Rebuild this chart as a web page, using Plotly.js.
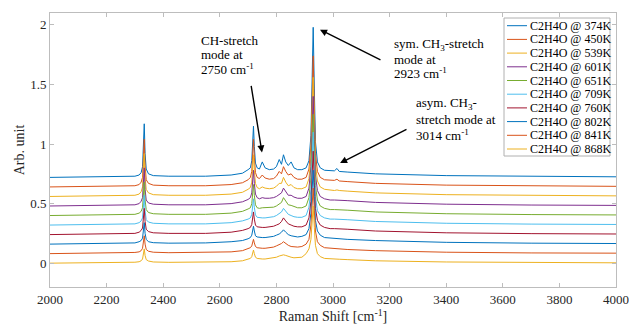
<!DOCTYPE html>
<html>
<head>
<meta charset="utf-8">
<script src="https://cdn.plot.ly/plotly-3.0.1.min.js"></script>
<style>html,body{margin:0;padding:0;background:#fff;}#chart{width:629px;height:327px;}</style>
</head>
<body>
<div id="chart"></div>
<script>
// Raman shift grid (cm^-1)
const wavenumber = [2000,2250,2300,2315,2322,2327,2330,2333,2336,2340,2348,2365,2420,2550,2640,2680,2700,2708,2713,2716,2719,2722,2726,2732,2740,2750,2760,2775,2790,2800,2810,2818,2825,2833,2842,2852,2862,2875,2890,2905,2915,2922,2926,2930,2934,2938,2945,2955,2970,2990,3005,3014,3022,3050,3150,3400,3700,4000];

const seriesNames = ["C2H4O @ 374K","C2H4O @ 450K","C2H4O @ 539K","C2H4O @ 601K","C2H4O @ 651K","C2H4O @ 709K","C2H4O @ 760K","C2H4O @ 802K","C2H4O @ 841K","C2H4O @ 868K"];
const offsets = [0.72,0.64,0.56,0.48,0.40,0.32,0.24,0.16,0.08,0.0];
const colors = ["#0072BD","#D95319","#EDB120","#7E2F8E","#77AC30","#4DBEEE","#A2142F","#0072BD","#D95319","#EDB120"];

const int374 = [0,0.005,0.01,0.02,0.04,0.09,0.22,0.45,0.2,0.07,0.03,0.015,0.01,0.01,0.02,0.035,0.065,0.08,0.14,0.25,0.43,0.26,0.12,0.08,0.07,0.13,0.08,0.065,0.07,0.09,0.15,0.11,0.19,0.13,0.10,0.13,0.08,0.065,0.065,0.08,0.14,0.35,0.8,1.26,0.75,0.3,0.13,0.08,0.06,0.055,0.055,0.075,0.05,0.045,0.03,0.015,0.008,0.005];
const int450 = [0,0.005,0.01,0.02,0.04,0.08,0.2,0.40,0.18,0.06,0.03,0.015,0.01,0.01,0.02,0.035,0.06,0.08,0.13,0.24,0.40,0.25,0.12,0.08,0.07,0.10,0.075,0.065,0.07,0.09,0.13,0.11,0.17,0.13,0.10,0.11,0.08,0.065,0.065,0.08,0.15,0.35,0.72,1.10,0.66,0.28,0.13,0.08,0.06,0.055,0.055,0.065,0.05,0.045,0.03,0.015,0.008,0.005];
const int539 = [0,0.005,0.01,0.02,0.04,0.08,0.18,0.36,0.16,0.06,0.03,0.015,0.01,0.01,0.02,0.035,0.06,0.075,0.12,0.21,0.35,0.22,0.11,0.075,0.065,0.08,0.07,0.065,0.07,0.085,0.11,0.11,0.16,0.12,0.09,0.10,0.075,0.065,0.065,0.08,0.15,0.34,0.66,1.0,0.6,0.27,0.13,0.08,0.06,0.055,0.05,0.055,0.05,0.045,0.03,0.015,0.008,0.005];
const int601 = [0,0.005,0.01,0.02,0.04,0.07,0.16,0.32,0.14,0.05,0.025,0.015,0.01,0.01,0.02,0.035,0.055,0.07,0.11,0.19,0.30,0.19,0.10,0.07,0.06,0.07,0.065,0.065,0.07,0.08,0.10,0.11,0.15,0.12,0.09,0.09,0.075,0.065,0.065,0.08,0.15,0.33,0.62,0.92,0.56,0.26,0.13,0.08,0.06,0.05,0.05,0.05,0.05,0.045,0.03,0.015,0.008,0.005];
const int651 = [0,0.005,0.01,0.02,0.035,0.065,0.14,0.28,0.13,0.05,0.025,0.015,0.01,0.01,0.02,0.035,0.055,0.065,0.10,0.17,0.26,0.17,0.09,0.065,0.06,0.065,0.065,0.065,0.07,0.08,0.10,0.11,0.15,0.12,0.09,0.085,0.075,0.065,0.065,0.08,0.15,0.32,0.58,0.85,0.52,0.25,0.13,0.08,0.06,0.05,0.05,0.05,0.05,0.045,0.03,0.015,0.008,0.005];
const int709 = [0,0.005,0.01,0.02,0.035,0.06,0.13,0.25,0.12,0.045,0.025,0.015,0.01,0.01,0.02,0.035,0.05,0.06,0.09,0.15,0.22,0.15,0.085,0.065,0.06,0.06,0.06,0.065,0.07,0.08,0.095,0.11,0.14,0.115,0.09,0.08,0.07,0.065,0.065,0.08,0.15,0.30,0.54,0.78,0.48,0.24,0.12,0.08,0.06,0.05,0.05,0.05,0.05,0.045,0.03,0.015,0.008,0.005];
const int760 = [0,0.005,0.01,0.02,0.035,0.055,0.12,0.22,0.11,0.045,0.025,0.015,0.01,0.01,0.02,0.035,0.05,0.06,0.085,0.13,0.19,0.13,0.08,0.065,0.06,0.06,0.06,0.065,0.07,0.08,0.09,0.11,0.14,0.115,0.09,0.08,0.07,0.065,0.065,0.08,0.14,0.28,0.5,0.70,0.44,0.22,0.12,0.08,0.06,0.05,0.05,0.05,0.05,0.045,0.03,0.015,0.008,0.005];
const int802 = [0,0.005,0.01,0.02,0.03,0.05,0.10,0.18,0.09,0.04,0.02,0.012,0.008,0.01,0.02,0.03,0.045,0.055,0.075,0.11,0.15,0.11,0.07,0.06,0.055,0.055,0.055,0.06,0.065,0.075,0.085,0.10,0.12,0.10,0.08,0.07,0.065,0.06,0.065,0.08,0.13,0.26,0.45,0.62,0.4,0.2,0.11,0.075,0.055,0.05,0.045,0.045,0.045,0.04,0.03,0.015,0.008,0.005];
const int841 = [0,0.005,0.01,0.015,0.025,0.045,0.085,0.15,0.08,0.035,0.02,0.012,0.008,0.01,0.015,0.025,0.04,0.05,0.065,0.09,0.12,0.09,0.06,0.05,0.045,0.045,0.045,0.05,0.055,0.065,0.075,0.085,0.10,0.085,0.07,0.06,0.055,0.055,0.06,0.08,0.12,0.24,0.4,0.55,0.36,0.19,0.1,0.07,0.05,0.045,0.04,0.04,0.04,0.035,0.025,0.012,0.006,0.004];
const int868 = [0,0.004,0.008,0.012,0.02,0.035,0.065,0.12,0.065,0.03,0.018,0.01,0.007,0.008,0.012,0.02,0.03,0.04,0.055,0.08,0.11,0.08,0.05,0.04,0.035,0.035,0.035,0.04,0.045,0.05,0.06,0.065,0.07,0.065,0.055,0.05,0.045,0.045,0.05,0.08,0.12,0.2,0.32,0.48,0.3,0.15,0.08,0.055,0.04,0.035,0.035,0.035,0.033,0.03,0.02,0.01,0.005,0.003];

const intensities = [int374,int450,int539,int601,int651,int709,int760,int802,int841,int868];

const xTickVals = [2000,2200,2400,2600,2800,3000,3200,3400,3600,3800,4000];
const yTickVals = [0,0.5,1,1.5,2];
const yTickText = ["0","0.5","1","1.5","2"];

// annotation texts
const noteCH = ["CH-stretch","mode at","2750 cm<sup>-1</sup>"];
const noteSym = ["sym. CH<sub>3</sub>-stretch","mode at","2923 cm<sup>-1</sup>"];
const noteAsym = ["asym. CH<sub>3</sub>-","stretch mode at","3014 cm<sup>-1</sup>"];

const FONT = "Liberation Serif, Times New Roman, serif";
const traces = intensities.map((arr, i) => ({
  type: "scatter", mode: "lines", name: seriesNames[i],
  x: wavenumber, y: arr.map(v => v + offsets[i]),
  line: {color: colors[i], width: 1}, showlegend: false
}));

const annotations = [];
function block(lines, x, ys) {
  lines.forEach((t, k) => annotations.push({
    xref: "x", yref: "y", x: x, y: ys[k], text: t, showarrow: false,
    xanchor: "left", yanchor: "middle", align: "left",
    font: {family: FONT, size: 13, color: "#000"}
  }));
}
block(noteCH, 2527, [1.872, 1.75, 1.629]);
block(noteSym, 3208, [1.839, 1.713, 1.595]);
block(noteAsym, 3286, [1.34, 1.205, 1.08]);
function arrow(x, y, ax, ay) {
  annotations.push({xref: "x", yref: "y", axref: "x", ayref: "y", x: x, y: y, ax: ax, ay: ay,
    text: "", showarrow: true, arrowhead: 2, arrowsize: 1, arrowwidth: 1.4, arrowcolor: "#000"});
}
arrow(2749, 0.93, 2710, 1.50);
arrow(2954, 1.96, 3173, 1.70);
arrow(3025, 0.84, 3265, 1.13);

// custom legend (compact row spacing)
const shapes = [];
const W = 566, H = 274, L = 50, T = 13;
const px = p => (p - L) / W, py = p => 1 - (p - T) / H;
shapes.push({type: "rect", xref: "paper", yref: "paper", x0: px(504), x1: px(610), y0: py(18), y1: py(156),
  line: {color: "#b0b0b0", width: 1}, fillcolor: "#fff", layer: "above"});
seriesNames.forEach((n, i) => {
  const yc = 25.7 + i * 13.7;
  shapes.push({type: "line", xref: "paper", yref: "paper", x0: px(507), x1: px(527), y0: py(yc), y1: py(yc),
    line: {color: colors[i], width: 1}, layer: "above"});
  annotations.push({xref: "paper", yref: "paper", x: px(527.5), y: py(yc), text: n, showarrow: false,
    xanchor: "left", yanchor: "middle", font: {family: FONT, size: 12, color: "#000"}});
});

const axisCommon = {
  showline: true, linecolor: "#bdbdbd", linewidth: 1, mirror: "ticks",
  ticks: "inside", ticklen: 4, tickcolor: "#bdbdbd", showgrid: false, zeroline: false,
  tickfont: {family: FONT, size: 13, color: "#262626"}
};

const layout = {
  width: 629, height: 327,
  margin: {l: L, r: 13, t: T, b: 40},
  paper_bgcolor: "#fff", plot_bgcolor: "#fff",
  showlegend: false,
  xaxis: Object.assign({}, axisCommon, {
    range: [2000, 4000], tickvals: xTickVals, ticktext: xTickVals.map(String),
    title: {text: "Raman Shift [cm<sup>-1</sup>]", font: {family: FONT, size: 14, color: "#262626"}, standoff: 4}
  }),
  yaxis: Object.assign({}, axisCommon, {
    range: [-0.2, 2.1], tickvals: yTickVals, ticktext: yTickText,
    title: {text: "Arb. unit", font: {family: FONT, size: 14, color: "#262626"}, standoff: 2}
  }),
  annotations: annotations,
  shapes: shapes
};

Plotly.newPlot("chart", traces, layout, {staticPlot: true, displayModeBar: false});
</script>
</body>
</html>
